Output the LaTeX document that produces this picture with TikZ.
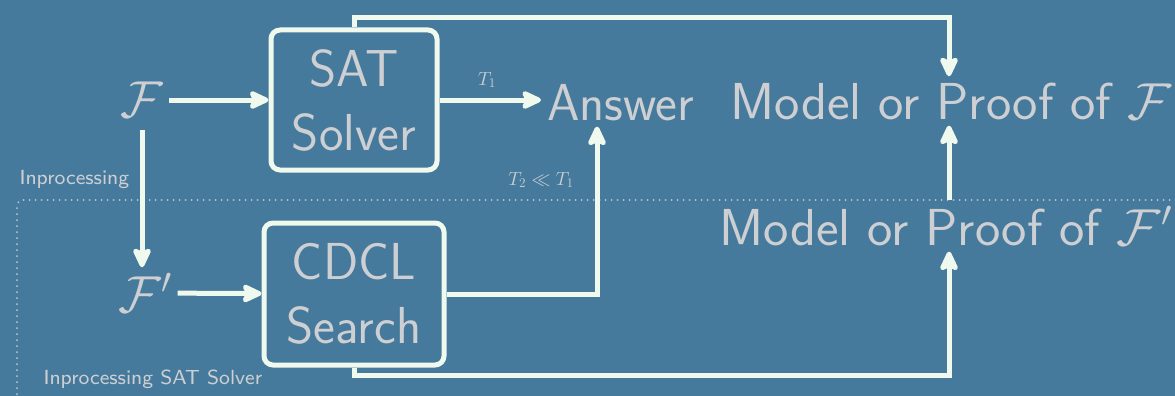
\documentclass[tikz,border=0pt]{standalone}
\usepackage{fix-cm}
\usetikzlibrary{arrows.meta,calc}
\definecolor{slidebg}{RGB}{69,122,156}
\definecolor{wire}{RGB}{240,249,238}
\definecolor{txt}{RGB}{205,207,211}
\definecolor{dotc}{RGB}{185,200,212}
\tikzset{
  big/.style={font=\sffamily\fontsize{52}{64}\selectfont, text=txt, inner sep=6pt},
  result/.style={big, xscale=1.035},
  blockbox/.style={big, draw=wire, line width=5pt, rounded corners=9pt, align=center, inner sep=0pt},
  wirearrow/.style={draw=wire, line width=5pt, -{Stealth[length=24pt,width=22pt,inset=5pt,round]}},
  small/.style={font=\sffamily\fontsize{8}{10}\selectfont, text=txt, inner sep=0pt, scale=2.55},
  mathlbl/.style={font=\fontsize{19}{23}\selectfont, text=txt, inner sep=0pt},
}
\begin{document}
\begin{tikzpicture}[x=1pt, y=-1pt]
  \useasboundingbox (0,0) rectangle (1175,396);
  \fill[slidebg] (0,0) rectangle (1175,396);
  \clip (0,0) rectangle (1175,396);

  % dotted frame of the inprocessing solver
  \draw[dotc, line width=2pt, line cap=round, dash pattern=on 0pt off 6pt, rounded corners=6pt]
    (17,430) -- (17,200) -- (1200,200);
  \node[small, anchor=base west] (lblin) at (19,184) {Inprocessing};
  \node[small, anchor=base west] (lblsolver) at (43,384) {Inprocessing SAT Solver};

  % formulas and blocks
  \node[big] (f) at (142,100) {$\mathcal{F}$};
  \node[big] (fp) at (145,293) {$\mathcal{F}'$};
  \node[blockbox, minimum width=166pt, minimum height=140pt] (sat) at (354,100) {SAT\\Solver};
  \node[blockbox, minimum width=180pt, minimum height=142pt] (cdcl) at (354,294) {CDCL\\Search};

  % results
  \node[big, anchor=base west] (ans) at (541,120) {Answer};
  \node[result, anchor=base west] (mof) at (724,119) {Model or Proof of $\mathcal{F}$};
  \node[result, anchor=base west] (mofp) at (713,245) {Model or Proof of $\mathcal{F}'$};

  % column guides for the connectors
  \coordinate (px) at (949,0);
  \coordinate (qx) at (597,0);

  % timing labels
  \node[mathlbl] (t1) at (487,80) {$T_1$};
  \node[mathlbl] (t2) at (541,180) {$T_2 \ll T_1$};

  % connectors
  \draw[wirearrow] (f) -- (sat);
  \draw[wirearrow, shorten <=6pt] (f.south) -- (f.south |- fp.north);
  \draw[wirearrow] (fp) -- (cdcl);
  \draw[wirearrow] (sat.east) -- (sat.east -| ans.west);
  \draw[wirearrow] (cdcl.east) -| (qx |- ans.south);
  \draw[wirearrow] (sat.north) -- ++(0,-10) -| (px |- mof.north);
  \draw[wirearrow] (px |- mofp.north) -- (px |- mof.south);
  \draw[wirearrow] (cdcl.south) -- ++(0,8) -| (px |- mofp.south);
\end{tikzpicture}
\end{document}
